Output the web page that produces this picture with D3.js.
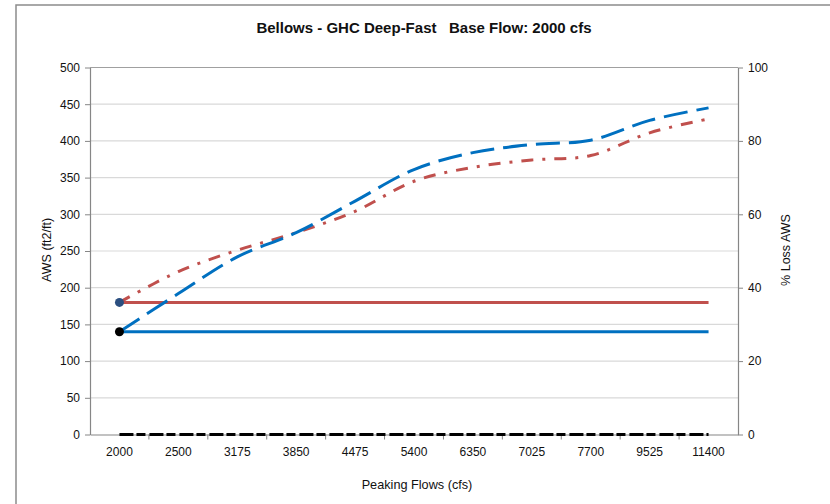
<!DOCTYPE html>
<html>
<head>
<meta charset="utf-8">
<script src="https://cdn.jsdelivr.net/npm/d3@7"></script>
<style>
  body { margin: 0; background: #fff; }
  svg text { font-family: "Liberation Sans", Arial, sans-serif; fill: #111; }
</style>
</head>
<body>
<svg id="drawing_region"></svg>
<script>
// categories on the x axis (peaking flows, cfs)
const flows = ['2000', '2500', '3175', '3850', '4475', '5400', '6350', '7025', '7700', '9525', '11400'];

// series (AWS ft2/ft)
const awsBlueDash = [140, 192, 242, 275, 318, 361, 384, 395, 401, 428, 445];
const awsRedDashDot = [180, 222, 251, 275, 304, 345, 364, 374, 380, 411, 430];
const awsBlueBase = [140, 140, 140, 140, 140, 140, 140, 140, 140, 140, 140];
const awsRedBase = [180, 180, 180, 180, 180, 180, 180, 180, 180, 180, 180];
const lossZero = [0, 0, 0, 0, 0, 0, 0, 0, 0, 0, 0];

// tick labels
const leftTicks = [0, 50, 100, 150, 200, 250, 300, 350, 400, 450, 500];
const rightTicks = [0, 20, 40, 60, 80, 100];

const config = {
  parent: '#drawing_region',
  width: 830,
  height: 504,
  margin: {top: 67.5, right: 92, bottom: 69.5, left: 90}
};

class DualAxisChart {

  constructor( config ) {
    this.config = config;
    this.init();
  }

  init(){
    let self = this;

    self.svg = d3.select( self.config.parent )
        .attr('width', self.config.width)
        .attr('height', self.config.height);

    // outer chart border
    self.svg.append('rect')
        .attr('x', 16).attr('y', 5)
        .attr('width', 830).attr('height', 520)
        .attr('fill', 'none')
        .attr('stroke', '#8c8c8c')
        .attr('stroke-width', 1.5);

    self.chart = self.svg.append('g')
        .attr('transform', `translate(${self.config.margin.left}, ${self.config.margin.top})`);

    self.inner_width = self.config.width - self.config.margin.left - self.config.margin.right;
    self.inner_height = self.config.height - self.config.margin.top - self.config.margin.bottom;

    self.xscale = d3.scaleBand()
        .domain(flows)
        .range([0, self.inner_width]);

    self.yscale = d3.scaleLinear()
        .domain([0, 500])
        .range([self.inner_height, 0]);

    self.y2scale = d3.scaleLinear()
        .domain([0, 100])
        .range([self.inner_height, 0]);
  }

  render(){
    let self = this;
    const w = self.inner_width, h = self.inner_height;
    const cx = d => self.xscale(d) + self.xscale.bandwidth() / 2;

    // gridlines
    self.chart.append('g')
        .selectAll('line')
        .data(leftTicks.filter(d => d > 0))
        .join('line')
        .attr('x1', 0).attr('x2', w)
        .attr('y1', d => self.yscale(d)).attr('y2', d => self.yscale(d))
        .attr('stroke', d => d === 500 ? '#a0a0a0' : '#d9d9d9')
        .attr('stroke-width', 1.2);

    // left axis
    const yaxis = d3.axisLeft(self.yscale)
        .tickValues(leftTicks)
        .tickSize(5).tickPadding(5).tickSizeOuter(0);
    const yg = self.chart.append('g').call(yaxis);

    // right axis
    const y2axis = d3.axisRight(self.y2scale)
        .tickValues(rightTicks)
        .tickSize(5).tickPadding(5).tickSizeOuter(0);
    const y2g = self.chart.append('g')
        .attr('transform', `translate(${w}, 0)`)
        .call(y2axis);

    // bottom axis: labels centred on the bands, ticks on the band edges
    const xaxis = d3.axisBottom(self.xscale)
        .tickSize(0).tickPadding(13).tickSizeOuter(0);
    const xg = self.chart.append('g')
        .attr('transform', `translate(0, ${h})`)
        .call(xaxis);
    xg.selectAll('.boundary')
        .data(flows.slice(1))
        .join('line')
        .attr('class', 'boundary')
        .attr('x1', d => self.xscale(d)).attr('x2', d => self.xscale(d))
        .attr('y1', 0).attr('y2', 5)
        .attr('stroke', '#868686');

    [yg, y2g, xg].forEach(g => {
      g.selectAll('.domain').attr('stroke', '#868686').attr('stroke-width', 1.2);
      g.selectAll('.tick line').attr('stroke', '#868686');
      g.selectAll('.tick text').attr('font-size', 12).attr('fill', '#111');
      g.attr('font-family', null);
    });

    const smooth = d3.line()
        .x((d, i) => cx(flows[i]))
        .y(d => self.yscale(d))
        .curve(d3.curveCatmullRom.alpha(0.5));
    const straight = d3.line()
        .x((d, i) => cx(flows[i]))
        .y(d => self.yscale(d));

    const series = [
      {values: lossZero, color: '#000', dash: '14,3,9,4', gen: straight},
      {values: awsBlueBase, color: '#0070c0', dash: null, gen: straight},
      {values: awsRedBase, color: '#c0504d', dash: null, gen: straight},
      {values: awsRedDashDot, color: '#c0504d', dash: '12,9,3,9', gen: smooth},
      {values: awsBlueDash, color: '#0070c0', dash: '24,9', gen: smooth}
    ];

    self.chart.append('g')
        .selectAll('path')
        .data(series)
        .join('path')
        .attr('d', d => d.gen(d.values))
        .attr('fill', 'none')
        .attr('stroke', d => d.color)
        .attr('stroke-width', 3)
        .attr('stroke-dasharray', d => d.dash);

    // start markers
    const markers = [
      {value: awsRedBase[0], color: '#2b4f80'},
      {value: awsBlueBase[0], color: '#000'}
    ];
    self.chart.append('g')
        .selectAll('circle')
        .data(markers)
        .join('circle')
        .attr('cx', cx(flows[0]))
        .attr('cy', d => self.yscale(d.value))
        .attr('r', 4.5)
        .attr('fill', d => d.color);

    // titles
    self.svg.append('text')
        .attr('x', 424).attr('y', 33)
        .attr('text-anchor', 'middle')
        .attr('font-size', 15).attr('font-weight', 'bold')
        .style('white-space', 'pre')
        .text('Bellows - GHC Deep-Fast   Base Flow: 2000 cfs');

    self.svg.append('text')
        .attr('x', 417).attr('y', 489)
        .attr('text-anchor', 'middle')
        .attr('font-size', 12.7)
        .text('Peaking Flows (cfs)');

    self.svg.append('text')
        .attr('transform', 'translate(51, 250) rotate(-90)')
        .attr('text-anchor', 'middle')
        .attr('font-size', 12.5)
        .text('AWS (ft2/ft)');

    self.svg.append('text')
        .attr('transform', 'translate(790, 250) rotate(-90)')
        .attr('text-anchor', 'middle')
        .attr('font-size', 12.5)
        .text('% Loss AWS');
  }
}

const chart = new DualAxisChart( config );
chart.render();
</script>
</body>
</html>
